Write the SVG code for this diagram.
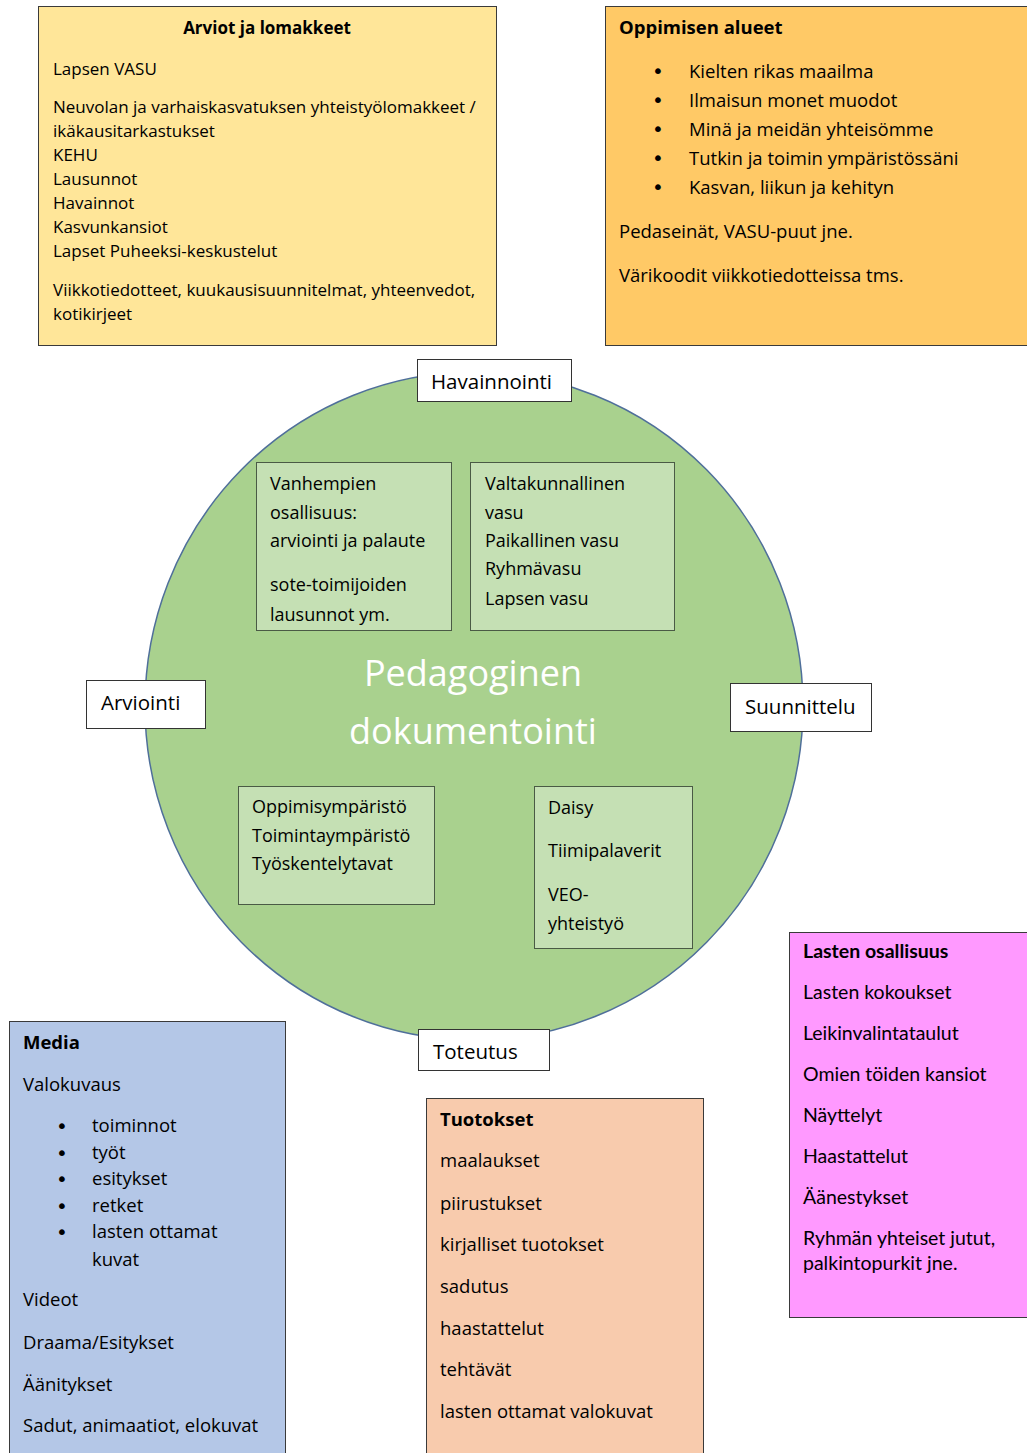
<svg xmlns="http://www.w3.org/2000/svg" width="1027" height="1453" viewBox="0 0 1027 1453">
<style>
  .t { font-family: "Open Sans", "DejaVu Sans", sans-serif; font-size: 17px; fill: #000; }
  .m { font-family: "Open Sans", "DejaVu Sans", sans-serif; font-size: 18.5px; fill: #000; }
  .b { font-weight: bold; }
  .c { font-family: Lato, "Liberation Sans", sans-serif; font-size: 19.5px; fill: #000; }
  .lbl { font-family: "Open Sans", "DejaVu Sans", sans-serif; font-size: 20.5px; fill: #000; }
  .in { font-family: "Open Sans", "DejaVu Sans", sans-serif; font-size: 18px; fill: #000; }
  .bul { font-family: "DejaVu Sans", sans-serif; font-size: 20px; fill: #000; text-anchor: middle; }
  .box { stroke: #3a3a3a; stroke-width: 1; }
  .inner { fill: #C5E0B4; stroke: #4a5a45; stroke-width: 1; }
  .white { fill: #fff; stroke: #333; stroke-width: 1; }
</style>
<rect width="1027" height="1453" fill="#fff"/>

<g id="arviot">
  <rect class="box" x="38.5" y="6.5" width="458" height="339" fill="#FFE699"/>
  <text class="t b" x="267" y="34" text-anchor="middle" font-size="19.5">Arviot ja lomakkeet</text>
  <text class="t" x="53" y="75">Lapsen VASU</text>
  <text class="t" x="53" y="113">Neuvolan ja varhaiskasvatuksen yhteistyölomakkeet /</text>
  <text class="t" x="53" y="137">ikäkausitarkastukset</text>
  <text class="t" x="53" y="161">KEHU</text>
  <text class="t" x="53" y="185">Lausunnot</text>
  <text class="t" x="53" y="209">Havainnot</text>
  <text class="t" x="53" y="233">Kasvunkansiot</text>
  <text class="t" x="53" y="257">Lapset Puheeksi-keskustelut</text>
  <text class="t" x="53" y="296">Viikkotiedotteet, kuukausisuunnitelmat, yhteenvedot,</text>
  <text class="t" x="53" y="320">kotikirjeet</text>
</g>

<g id="oppimisen-alueet">
  <rect class="box" x="605.5" y="6.5" width="430" height="339" fill="#FFC966"/>
  <text class="m b" x="619" y="34">Oppimisen alueet</text>
  <g>
    <text class="bul" x="658" y="78">•</text><text class="m" x="689" y="78">Kielten rikas maailma</text>
    <text class="bul" x="658" y="107">•</text><text class="m" x="689" y="107">Ilmaisun monet muodot</text>
    <text class="bul" x="658" y="136">•</text><text class="m" x="689" y="136">Minä ja meidän yhteisömme</text>
    <text class="bul" x="658" y="165">•</text><text class="m" x="689" y="165">Tutkin ja toimin ympäristössäni</text>
    <text class="bul" x="658" y="194">•</text><text class="m" x="689" y="194">Kasvan, liikun ja kehityn</text>
  </g>
  <text class="m" x="619" y="238">Pedaseinät, VASU-puut jne.</text>
  <text class="m" x="619" y="282">Värikoodit viikkotiedotteissa tms.</text>
</g>

<g id="pedagoginen-dokumentointi">
  <ellipse cx="474" cy="706" rx="329" ry="334" fill="#A9D18E" stroke="#4F6F9A" stroke-width="1.5"/>
  <text x="473" y="686" text-anchor="middle" font-family="'Open Sans', sans-serif" font-size="36" fill="#fff">Pedagoginen</text>
  <text x="473" y="744" text-anchor="middle" font-family="'Open Sans', sans-serif" font-size="36" fill="#fff">dokumentointi</text>
</g>

<g id="vanhempien">
  <rect class="inner" x="256.5" y="462.5" width="195" height="168"/>
  <g class="in">
    <text x="270" y="490">Vanhempien</text>
    <text x="270" y="519">osallisuus:</text>
    <text x="270" y="547">arviointi ja palaute</text>
    <text x="270" y="591">sote-toimijoiden</text>
    <text x="270" y="621">lausunnot ym.</text>
  </g>
</g>

<g id="vasu">
  <rect class="inner" x="470.5" y="462.5" width="204" height="168"/>
  <g class="in">
    <text x="485" y="490">Valtakunnallinen</text>
    <text x="485" y="519">vasu</text>
    <text x="485" y="547">Paikallinen vasu</text>
    <text x="485" y="575">Ryhmävasu</text>
    <text x="485" y="605">Lapsen vasu</text>
  </g>
</g>

<g id="ymparisto">
  <rect class="inner" x="238.5" y="786.5" width="196" height="118"/>
  <g class="in">
    <text x="252" y="813">Oppimisympäristö</text>
    <text x="252" y="842">Toimintaympäristö</text>
    <text x="252" y="870">Työskentelytavat</text>
  </g>
</g>

<g id="daisy">
  <rect class="inner" x="534.5" y="786.5" width="158" height="162"/>
  <g class="in">
    <text x="548" y="814">Daisy</text>
    <text x="548" y="857">Tiimipalaverit</text>
    <text x="548" y="901">VEO-</text>
    <text x="548" y="930">yhteistyö</text>
  </g>
</g>

<g id="havainnointi">
  <rect class="white" x="417.5" y="359.5" width="154" height="42"/>
  <text class="lbl" x="431" y="389">Havainnointi</text>
</g>
<g id="arviointi">
  <rect class="white" x="86.5" y="680.5" width="119" height="48"/>
  <text class="lbl" x="101" y="710">Arviointi</text>
</g>
<g id="suunnittelu">
  <rect class="white" x="730.5" y="683.5" width="141" height="48"/>
  <text class="lbl" x="745" y="714">Suunnittelu</text>
</g>
<g id="toteutus">
  <rect class="white" x="418.5" y="1029.5" width="131" height="41"/>
  <text class="lbl" x="433" y="1059">Toteutus</text>
</g>

<g id="media">
  <rect class="box" x="9.5" y="1021.5" width="276" height="440" fill="#B4C7E7"/>
  <text class="m b" x="23" y="1049">Media</text>
  <text class="m" x="23" y="1091">Valokuvaus</text>
  <g>
    <text class="bul" x="62" y="1133">•</text><text class="m" x="92" y="1132">toiminnot</text>
    <text class="bul" x="62" y="1160">•</text><text class="m" x="92" y="1159">työt</text>
    <text class="bul" x="62" y="1186">•</text><text class="m" x="92" y="1185">esitykset</text>
    <text class="bul" x="62" y="1213">•</text><text class="m" x="92" y="1212">retket</text>
    <text class="bul" x="62" y="1239">•</text><text class="m" x="92" y="1238">lasten ottamat</text>
    <text class="m" x="92" y="1266">kuvat</text>
  </g>
  <text class="m" x="23" y="1306">Videot</text>
  <text class="m" x="23" y="1349">Draama/Esitykset</text>
  <text class="m" x="23" y="1391">Äänitykset</text>
  <text class="m" x="23" y="1432">Sadut, animaatiot, elokuvat</text>
</g>

<g id="tuotokset">
  <rect class="box" x="426.5" y="1098.5" width="277" height="370" fill="#F8CBAD"/>
  <text class="m b" x="440" y="1126">Tuotokset</text>
  <text class="m" x="440" y="1167">maalaukset</text>
  <text class="m" x="440" y="1210">piirustukset</text>
  <text class="m" x="440" y="1251">kirjalliset tuotokset</text>
  <text class="m" x="440" y="1293">sadutus</text>
  <text class="m" x="440" y="1335">haastattelut</text>
  <text class="m" x="440" y="1376">tehtävät</text>
  <text class="m" x="440" y="1418">lasten ottamat valokuvat</text>
</g>

<g id="lasten-osallisuus">
  <rect class="box" x="789.5" y="932.5" width="250" height="385" fill="#FF99FF"/>
  <text class="c b" x="803" y="958">Lasten osallisuus</text>
  <text class="c" x="803" y="999">Lasten kokoukset</text>
  <text class="c" x="803" y="1040">Leikinvalintataulut</text>
  <text class="c" x="803" y="1081">Omien töiden kansiot</text>
  <text class="c" x="803" y="1122">Näyttelyt</text>
  <text class="c" x="803" y="1163">Haastattelut</text>
  <text class="c" x="803" y="1204">Äänestykset</text>
  <text class="c" x="803" y="1245">Ryhmän yhteiset jutut,</text>
  <text class="c" x="803" y="1270">palkintopurkit jne.</text>
</g>

<g id="connectors"></g>
</svg>
